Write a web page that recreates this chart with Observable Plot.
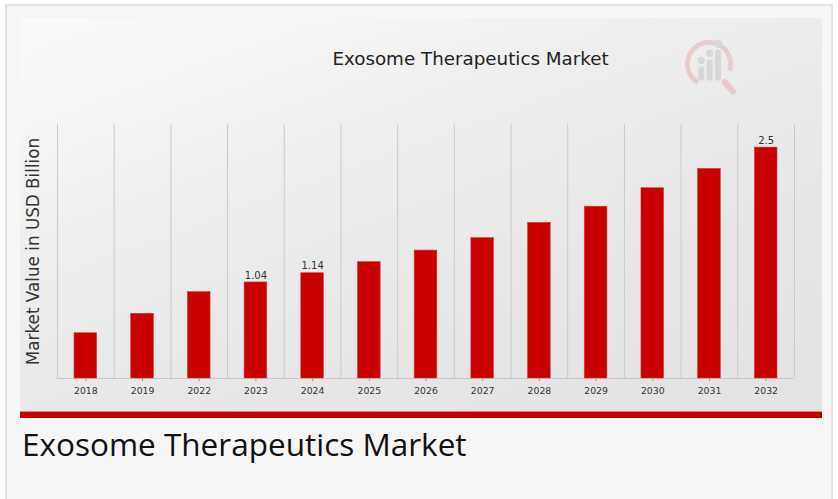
<!DOCTYPE html>
<html>
<head>
<meta charset="utf-8">
<script src="https://cdn.jsdelivr.net/npm/d3@7"></script>
<script src="https://cdn.jsdelivr.net/npm/@observablehq/plot@0.6"></script>
<style>
  html, body { margin: 0; padding: 0; background: #ffffff; width: 838px; height: 499px; overflow: hidden; }
  #frame { position: absolute; left: 5px; top: 4px; width: 828px; height: 520px; border: 2px solid #e3e3e3; background: #f6f6f6; box-sizing: border-box; }
  #chart { position: absolute; left: 20px; top: 18px; width: 802px; height: 394px;
           background: linear-gradient(160deg, #fbfbfb 0%, #eeeeee 35%, #e6e6e6 70%, #e3e3e3 100%); }
  #chart svg { display: block; }
  #redbar { position: absolute; left: 20px; top: 411px; width: 802px; height: 7px; background: #c40000; border-top: 1px solid #e08080; box-sizing: border-box; }
  #caption { position: absolute; left: 22px; top: 422px; font-family: "Open Sans", sans-serif; font-size: 31.5px; color: #111; white-space: nowrap; }
  svg { font-family: "DejaVu Sans", sans-serif; }
</style>
</head>
<body>
<div id="frame"></div>
<div id="chart"></div>
<div id="redbar"></div>
<div id="caption"></div>
<script>
const title = "Exosome Therapeutics Market";
const yLabel = "Market Value in USD Billion";
const years = ["2018", "2019", "2022", "2023", "2024", "2025", "2026", "2027", "2028", "2029", "2030", "2031", "2032"];
const values = [0.49, 0.70, 0.935, 1.04, 1.14, 1.26, 1.385, 1.52, 1.685, 1.86, 2.06, 2.27, 2.5];
const valueLabels = ["", "", "", "1.04", "1.14", "", "", "", "", "", "", "", "2.5"];
const yMax = 2.75;

const data = years.map((y, i) => ({year: y, value: values[i], label: valueLabels[i]}));

const W = 802, H = 394, mL = 37, mR = 28, mT = 106, mB = 34;
const step = (W - mL - mR) / years.length;

const plot = Plot.plot({
  width: W,
  height: H,
  marginLeft: mL,
  marginRight: mR,
  marginTop: mT,
  marginBottom: mB,
  style: {background: "transparent", fontFamily: "DejaVu Sans, sans-serif", color: "#333"},
  x: {domain: years, paddingInner: 0.6, paddingOuter: 0.3, round: false, label: null},
  y: {domain: [0, yMax], axis: null},
  marks: [
    Plot.ruleX(years, {x: d => d, dx: -step / 2, stroke: "#cbcbcb", strokeWidth: 1}),
    Plot.ruleX([years[years.length - 1]], {x: d => d, dx: step / 2, stroke: "#cbcbcb", strokeWidth: 1}),
    Plot.ruleY([0], {stroke: "#c8c8c8", strokeWidth: 1}),
    Plot.barY(data, {x: "year", y: "value", fill: "#c80000", stroke: "#d84040", strokeWidth: 0.6}),
    Plot.text(data, {x: "year", y: "value", text: "label", dy: -7, fontSize: 10, fill: "#333"}),
    Plot.axisX({tickSize: 3, tickPadding: 6, fontSize: 9.3, stroke: "#999", fill: "#333", label: null}),
    Plot.text([yLabel], {frameAnchor: "left", textAnchor: "middle", rotate: -90, dx: -24, fontSize: 16.8, fill: "#333", text: d => d}),
    Plot.text([title], {frameAnchor: "top-left", dx: 450 - mL, dy: 33 - mT, fontSize: 18.3, fill: "#222", textAnchor: "middle", text: d => d})
  ]
});

// faint logo decoration
const svg = d3.select(plot);
const g = svg.append("g").attr("transform", "translate(689,46) scale(1.2)").attr("opacity", 0.45);
g.append("path").attr("d", d3.arc()({innerRadius: 16, outerRadius: 20, startAngle: -2.6, endAngle: 1.9})).attr("fill", "#e6a8a8");
g.append("line").attr("x1", 13).attr("y1", 15).attr("x2", 20).attr("y2", 23).attr("stroke", "#e6a8a8").attr("stroke-width", 5).attr("stroke-linecap", "round");
g.append("rect").attr("x", -9).attr("y", 2).attr("width", 5).attr("height", 12).attr("rx", 2.5).attr("fill", "#c0c0c0");
g.append("rect").attr("x", -2).attr("y", -4).attr("width", 5).attr("height", 18).attr("rx", 2.5).attr("fill", "#c0c0c0");
g.append("rect").attr("x", 5).attr("y", -12).attr("width", 5).attr("height", 26).attr("rx", 2.5).attr("fill", "#c0c0c0");
g.append("circle").attr("cx", -6.5).attr("cy", -3).attr("r", 3).attr("fill", "#c0c0c0");
g.append("circle").attr("cx", 0.5).attr("cy", -9).attr("r", 3).attr("fill", "#c0c0c0");
g.append("circle").attr("cx", 7.5).attr("cy", -17).attr("r", 3.5).attr("fill", "#c0c0c0");

document.getElementById("chart").appendChild(plot);
document.getElementById("caption").textContent = title;
</script>
</body>
</html>
